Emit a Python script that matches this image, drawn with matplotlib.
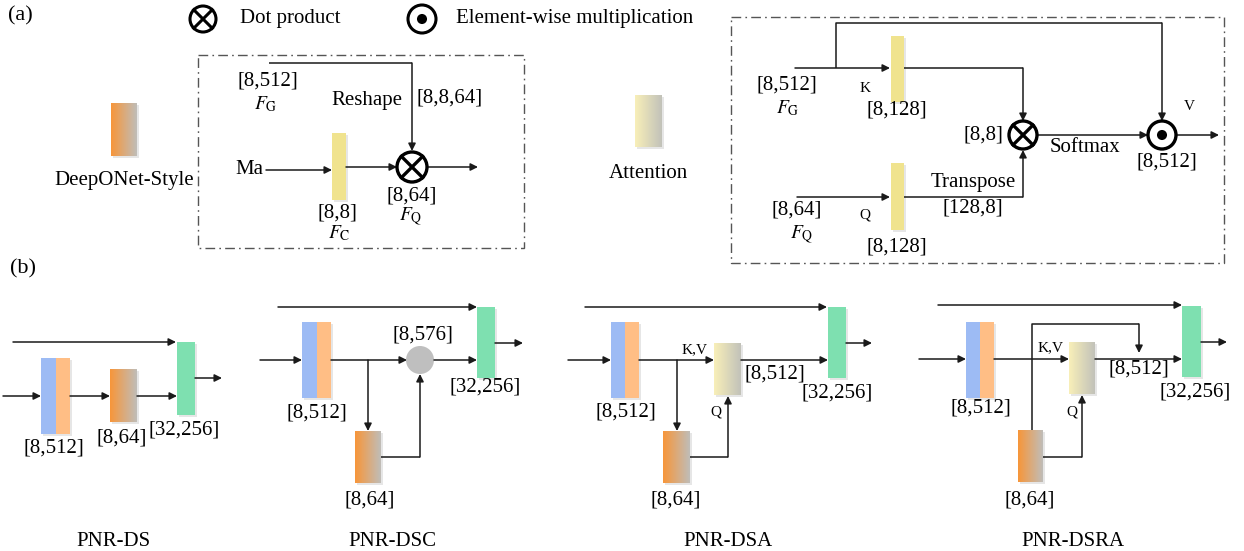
import matplotlib.pyplot as plt
import numpy as np
from matplotlib.colors import LinearSegmentedColormap
from matplotlib.patches import Rectangle, Circle

plt.rcParams['font.family'] = ['Liberation Serif', 'DejaVu Serif']
plt.rcParams['mathtext.fontset'] = 'stix'

# Text content of the diagram
panel_tags = ['(a)', '(b)']
legend_ops = ['Dot product', 'Element-wise multiplication']
legend_blocks = ['DeepONet-Style', 'Attention']
variant_names = ['PNR-DS', 'PNR-DSC', 'PNR-DSA', 'PNR-DSRA']

# Colours
BLUE = '#9DBBF4'
ORANGE = '#FFBE85'
GREEN = '#7EE0B0'
YELLOW = '#F0E38E'
DEEP = ('#F7963A', '#C0BDB8')
ATT = ('#F8EFB8', '#C2C2BA')
LINE = '#1a1a1a'

fig = plt.figure(figsize=(12.44, 5.51), dpi=100)
ax = fig.add_axes([0, 0, 1, 1])

FS = 15
FS_S = 11


def line(pts):
    xs, ys = zip(*pts)
    ax.plot(xs, ys, color=LINE, lw=1.1, solid_capstyle='butt', zorder=2)


def arrow(pts):
    if len(pts) > 2:
        line(pts[:-1])
    ax.annotate('', xy=pts[-1], xytext=pts[-2],
                arrowprops=dict(arrowstyle='-|>', color=LINE, lw=1.1,
                                mutation_scale=11, shrinkA=0, shrinkB=0),
                zorder=3)


def bar(x0, y0, x1, y1, color):
    ax.add_patch(Rectangle((x0 + 1.5, y0 + 1.5), x1 - x0, y1 - y0,
                           color='#e6e6e6', lw=0, zorder=1))
    ax.add_patch(Rectangle((x0, y0), x1 - x0, y1 - y0, color=color, lw=0, zorder=2))


def grad(x0, y0, x1, y1, cols):
    ax.add_patch(Rectangle((x0 + 1.5, y0 + 1.5), x1 - x0, y1 - y0,
                           color='#e6e6e6', lw=0, zorder=1))
    cmap = LinearSegmentedColormap.from_list('g', list(cols))
    ax.imshow(np.linspace(0, 1, 64)[None, :], cmap=cmap, aspect='auto',
              extent=[x0, x1, y1, y0], zorder=2, interpolation='bilinear')


def split(x0, y0, x1, y1):
    xm = (x0 + x1) / 2
    bar(x0, y0, x1, y1, ORANGE)
    ax.add_patch(Rectangle((x0, y0), xm - x0, y1 - y0, color=BLUE, lw=0, zorder=2))


def otimes(cx, cy, r, lw=2.4):
    ax.add_patch(Circle((cx, cy), r, fill=False, ec='k', lw=lw, zorder=4))
    d = r * 0.707
    ax.plot([cx - d, cx + d], [cy - d, cy + d], color='k', lw=lw, zorder=4)
    ax.plot([cx - d, cx + d], [cy + d, cy - d], color='k', lw=lw, zorder=4)


def odot(cx, cy, r, lw=2.4):
    ax.add_patch(Circle((cx, cy), r, fill=False, ec='k', lw=lw, zorder=4))
    ax.add_patch(Circle((cx, cy), r * 0.36, color='k', lw=0, zorder=4))


def txt(x, y, s, size=FS, ha='center', **kw):
    ax.text(x, y, s, fontsize=size, ha=ha, va='center', **kw)


def box(x0, y0, x1, y1):
    ax.add_patch(Rectangle((x0, y0), x1 - x0, y1 - y0, fill=False, ec='#555555',
                           lw=1.0, ls=(0, (7, 3, 1.2, 3)), zorder=1))


# ---------------- (a) ----------------
txt(8, 16, panel_tags[0], ha='left', size=16)
otimes(203, 19, 13, lw=2.2)
txt(240, 19, legend_ops[0], ha='left')
odot(422, 19, 14, lw=2.2)
txt(456, 19, legend_ops[1], ha='left')

grad(111, 103, 137, 156, DEEP)
txt(124, 181, legend_blocks[0])
grad(635, 95, 662, 147, ATT)
txt(648, 174, legend_blocks[1])

# DeepONet-style box
box(198, 55, 524, 248)
txt(268, 81, '[8,512]')
txt(266, 104, r'$F_\mathrm{G}$', size=14)
arrow([(269, 63), (412, 63), (412, 151)])
txt(367, 100, 'Reshape')
txt(450, 98, '[8,8,64]')
txt(249, 170, 'Ma')
arrow([(266, 170), (332, 170)])
bar(332, 133, 346, 200, YELLOW)
arrow([(346, 167), (397, 167)])
otimes(412, 167, 15)
arrow([(427, 167), (478, 167)])
txt(412, 196, '[8,64]')
txt(411, 217, r'$F_\mathrm{Q}$', size=14)
txt(337, 213, '[8,8]')
txt(339, 233, r'$F_\mathrm{C}$', size=14)

# Attention box
box(731, 17, 1224, 263)
txt(787, 85, '[8,512]')
txt(788, 108, r'$F_\mathrm{G}$', size=14)
arrow([(795, 68), (890, 68)])
arrow([(836, 68), (836, 23), (1162, 23), (1162, 121)])
bar(891, 36, 904, 102, YELLOW)
txt(865, 88, 'K', size=FS_S)
txt(897, 110, '[8,128]')
arrow([(904, 68), (1023, 68), (1023, 121)])
otimes(1023, 135, 14)
txt(983, 135, '[8,8]')
arrow([(1037, 135), (1148, 135)])
txt(1085, 148, 'Softmax')
odot(1162, 135, 14)
txt(1189, 107, 'V', size=FS_S)
txt(1167, 162, '[8,512]')
arrow([(1176, 135), (1219, 135)])
txt(797, 210, '[8,64]')
txt(802, 235, r'$F_\mathrm{Q}$', size=14)
arrow([(797, 197), (890, 197)])
bar(891, 163, 904, 230, YELLOW)
txt(865, 215, 'Q', size=FS_S)
txt(897, 247, '[8,128]')
arrow([(904, 197), (1023, 197), (1023, 150)])
txt(973, 182, 'Transpose')
txt(973, 208, '[128,8]')

# ---------------- (b) ----------------
txt(10, 269, panel_tags[1], ha='left', size=16)

# PNR-DS
arrow([(13, 342), (176, 342)])
arrow([(3, 396), (41, 396)])
split(41, 358, 70, 434)
arrow([(70, 396), (110, 396)])
grad(110, 369, 137, 422, DEEP)
arrow([(137, 396), (177, 396)])
bar(177, 342, 195, 415, GREEN)
arrow([(195, 378), (222, 378)])
txt(54, 448, '[8,512]')
txt(122, 438, '[8,64]')
txt(184, 430, '[32,256]')
txt(113, 541, variant_names[0])

# PNR-DSC
arrow([(278, 307), (477, 307)])
arrow([(260, 360), (302, 360)])
split(302, 322, 331, 398)
arrow([(331, 360), (407, 360)])
arrow([(368, 360), (368, 431)])
grad(355, 431, 381, 483, DEEP)
arrow([(381, 457), (420, 457), (420, 374)])
ax.add_patch(Circle((420, 360), 14, color='#BFBFBF', lw=0, zorder=3))
txt(423, 335, '[8,576]')
arrow([(434, 360), (477, 360)])
bar(477, 307, 495, 378, GREEN)
arrow([(495, 343), (523, 343)])
txt(485, 387, '[32,256]')
txt(317, 413, '[8,512]')
txt(370, 500, '[8,64]')
txt(392, 541, variant_names[1])

# PNR-DSA
arrow([(585, 307), (827, 307)])
arrow([(568, 360), (611, 360)])
split(611, 322, 639, 398)
arrow([(639, 360), (714, 360)])
txt(695, 350, 'K,V', size=FS_S)
arrow([(677, 360), (677, 431)])
grad(663, 431, 690, 483, DEEP)
arrow([(690, 457), (728, 457), (728, 396)])
grad(714, 343, 741, 395, ATT)
txt(716, 412, 'Q', size=FS_S)
arrow([(741, 360), (828, 360)])
txt(775, 374, '[8,512]')
bar(828, 307, 846, 378, GREEN)
arrow([(846, 343), (872, 343)])
txt(837, 393, '[32,256]')
txt(626, 412, '[8,512]')
txt(676, 500, '[8,64]')
txt(728, 541, variant_names[2])

# PNR-DSRA
arrow([(938, 305), (1182, 305)])
arrow([(919, 359), (966, 359)])
split(966, 322, 994, 398)
arrow([(994, 359), (1069, 359)])
txt(1051, 348, 'K,V', size=FS_S)
arrow([(1032, 430), (1032, 324), (1139, 324), (1139, 353)])
grad(1018, 430, 1043, 482, DEEP)
arrow([(1043, 457), (1082, 457), (1082, 395)])
grad(1069, 342, 1095, 394, ATT)
txt(1072, 412, 'Q', size=FS_S)
arrow([(1095, 359), (1182, 359)])
txt(1139, 369, '[8,512]')
bar(1182, 306, 1201, 377, GREEN)
arrow([(1201, 342), (1227, 342)])
txt(1195, 392, '[32,256]')
txt(981, 408, '[8,512]')
txt(1030, 500, '[8,64]')
txt(1073, 541, variant_names[3])

ax.set_xlim(0, 1244)
ax.set_ylim(551, 0)
ax.axis('off')
fig.savefig('out.png', dpi=100, facecolor='white')
